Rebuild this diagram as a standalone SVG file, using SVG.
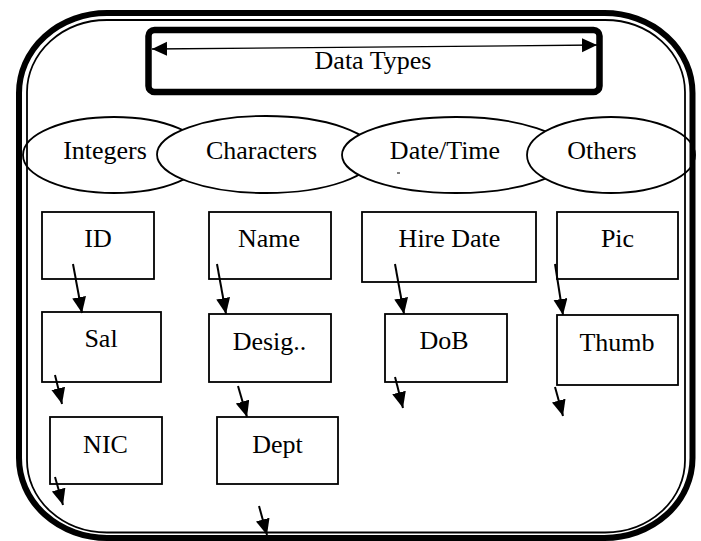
<svg xmlns="http://www.w3.org/2000/svg" width="701" height="541" viewBox="0 0 701 541">
<style>
text{font-family:"Liberation Serif","Times New Roman",serif;font-size:26px;fill:#000;text-anchor:middle}
.box{fill:#fff;stroke:#000;stroke-width:1.8}
.ell{fill:#fff;stroke:#000;stroke-width:1.8}
.con{stroke:#000;stroke-width:2;fill:none;marker-end:url(#ah)}
</style>
<defs>
<marker id="ah" markerUnits="userSpaceOnUse" markerWidth="17" markerHeight="15" refX="16" refY="7" orient="auto"><path d="M0,0 L16,7 L0,14 z" fill="#000"/></marker>
<marker id="ah2" markerUnits="userSpaceOnUse" markerWidth="16" markerHeight="15" refX="15" refY="7" orient="auto-start-reverse"><path d="M0,0 L15,7 L0,14 z" fill="#000"/></marker>
</defs>
<rect width="701" height="541" fill="#fff"/>
<g id="title">
<rect x="148.5" y="30" width="451" height="62" rx="6" fill="#fff" stroke="#000" stroke-width="6.5"/>
<line x1="152" y1="49" x2="597" y2="45" stroke="#000" stroke-width="1.3" marker-start="url(#ah2)" marker-end="url(#ah2)"/>
<text x="373" y="68.5">Data Types</text>
</g>
<g id="integers"><ellipse class="ell" cx="114" cy="155" rx="91" ry="38"/><text x="105" y="159">Integers</text></g>
<g id="characters"><ellipse class="ell" cx="266" cy="154.5" rx="109" ry="38.5"/><text x="261.5" y="159">Characters</text></g>
<g id="datetime"><ellipse class="ell" cx="456" cy="155" rx="114" ry="38"/><text x="445" y="159">Date/Time</text><line x1="397" y1="173" x2="400" y2="173" stroke="#000" stroke-width="1"/></g>
<g id="others"><ellipse class="ell" cx="611" cy="155" rx="84" ry="38"/><text x="602" y="159">Others</text></g>
<g id="frame" fill="none" stroke="#000">
<rect x="19" y="13" width="673.5" height="525" rx="88" ry="80" stroke-width="6"/>
<rect x="27" y="20" width="658" height="512.5" rx="80" ry="72" stroke-width="1.8"/>
</g>
<g id="id"><rect class="box" x="42" y="212" width="112" height="67"/><text x="98" y="247">ID</text></g>
<g id="name"><rect class="box" x="209" y="212" width="122" height="67"/><text x="269" y="247">Name</text></g>
<g id="hiredate"><rect class="box" x="362" y="212" width="174" height="70"/><text x="449.5" y="247">Hire Date</text></g>
<g id="pic"><rect class="box" x="557" y="212" width="121" height="67"/><text x="617.5" y="247">Pic</text></g>
<g id="sal"><rect class="box" x="42" y="312" width="119" height="70"/><text x="101" y="347">Sal</text></g>
<g id="desig"><rect class="box" x="209" y="314" width="122" height="68"/><text x="269.5" y="350">Desig..</text></g>
<g id="dob"><rect class="box" x="385" y="314" width="122" height="68"/><text x="444" y="349">DoB</text></g>
<g id="thumb"><rect class="box" x="557" y="315" width="121" height="70"/><text x="617" y="351">Thumb</text></g>
<g id="nic"><rect class="box" x="50" y="417" width="112" height="67"/><text x="105.5" y="453">NIC</text></g>
<g id="dept"><rect class="box" x="217" y="417" width="121" height="67"/><text x="277.5" y="453">Dept</text></g>
<g id="connectors">
<line class="con" x1="73" y1="264" x2="82" y2="313"/>
<line class="con" x1="217" y1="264" x2="226" y2="314"/>
<line class="con" x1="395" y1="264" x2="404" y2="314"/>
<line class="con" x1="555" y1="264" x2="563" y2="315"/>
<line class="con" x1="55" y1="375" x2="62" y2="404"/>
<line class="con" x1="238" y1="386" x2="247" y2="417"/>
<line class="con" x1="395" y1="377" x2="403" y2="408"/>
<line class="con" x1="555" y1="387" x2="563" y2="416"/>
<line class="con" x1="55" y1="477" x2="63" y2="505"/>
<line class="con" x1="259" y1="506" x2="267" y2="535"/>
</g>
</svg>
